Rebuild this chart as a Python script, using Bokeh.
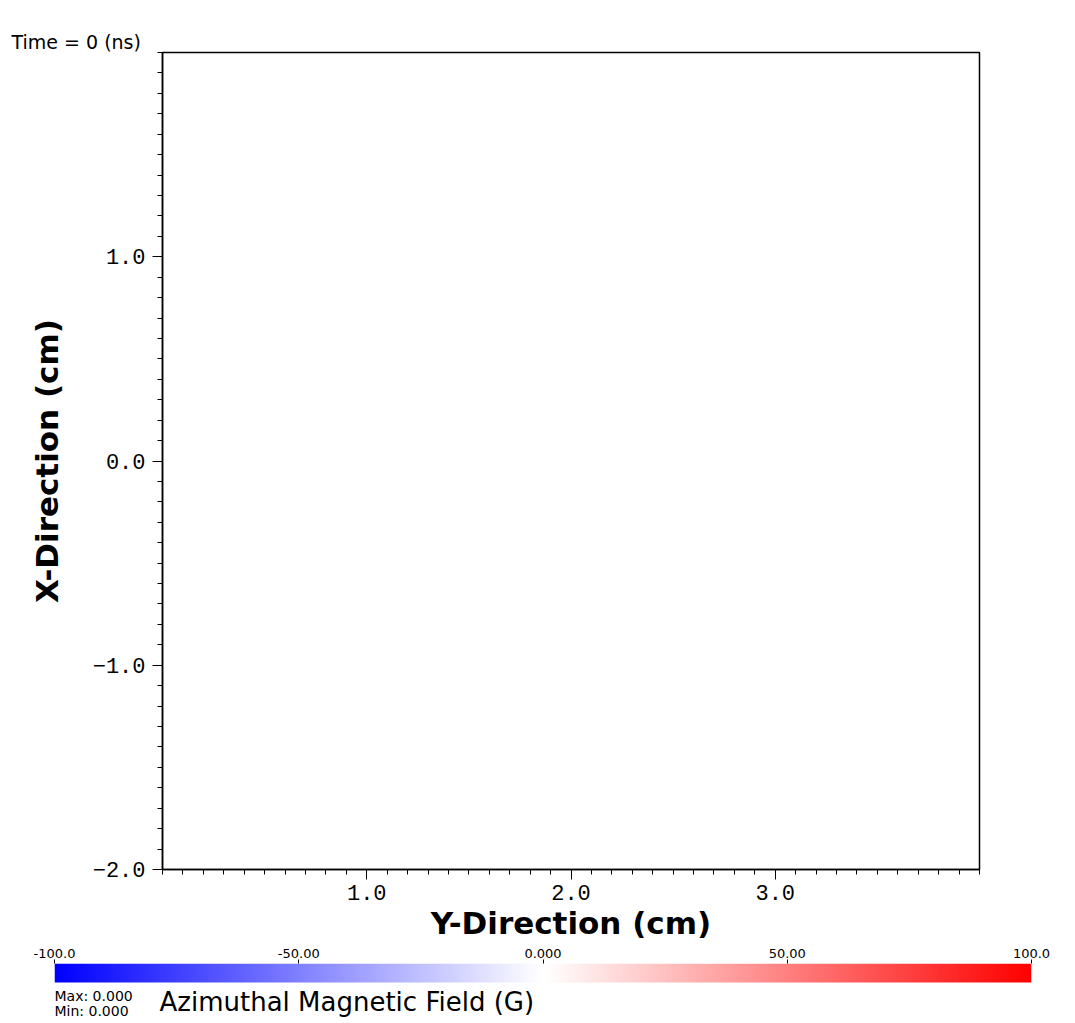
import numpy as np
from bokeh.plotting import figure
from bokeh.models import Range1d, FixedTicker, LinearColorMapper, Label
from bokeh.layouts import column
from bokeh.embed import file_html
from bokeh.resources import INLINE

# ---- data ----
time_ns = 0
x_limits = [0.0, 4.0]          # Y-Direction (cm)
y_limits = [-2.0, 2.0]         # X-Direction (cm)
x_major_ticks = [1.0, 2.0, 3.0]
x_major_labels = ["1.0", "2.0", "3.0"]
y_major_ticks = [-2.0, -1.0, 0.0, 1.0]
y_major_labels = ["\u22122.0", "\u22121.0", "0.0", "1.0"]
minor_step = 0.1
cbar_low, cbar_high = -100.0, 100.0
cbar_ticks = [-100.0, -50.0, 0.0, 50.0, 100.0]
cbar_tick_labels = ["-100.0", "-50.00", "0.000", "50.00", "100.0"]
field_max = "0.000"
field_min = "0.000"
field_title = "Azimuthal Magnetic Field (G)"

BLACK = "#000000"
LABEL_FONT = "DejaVu Sans"
TICK_FONT = "Liberation Mono"

# ---- main plot ----
p = figure(
    frame_width=817, frame_height=817,
    x_range=Range1d(*x_limits), y_range=Range1d(*y_limits),
    output_backend="svg", toolbar_location=None,
    min_border_left=162, min_border_right=90,
    min_border_top=52, min_border_bottom=74,
    title="Time = %d (ns)" % time_ns,
    background_fill_color="white", border_fill_color="white",
)
p.frame_align = False
p.title.text_font = LABEL_FONT
p.title.text_font_size = "19px"
p.title.text_font_style = "normal"
p.title.text_color = BLACK
p.title.align = "left"
p.title.offset = -151
p.title.standoff = 0

p.grid.visible = False
p.outline_line_color = BLACK
p.outline_line_width = 1.5
p.outline_line_alpha = 1.0

x_minor = [round(v, 1) for v in np.arange(x_limits[0], x_limits[1] + 1e-9, minor_step)]
y_minor = [round(v, 1) for v in np.arange(y_limits[0], y_limits[1] + 1e-9, minor_step)]
p.xaxis.ticker = FixedTicker(ticks=x_major_ticks, minor_ticks=x_minor)
p.yaxis.ticker = FixedTicker(ticks=y_major_ticks, minor_ticks=y_minor)
p.xaxis.major_label_overrides = {t: l for t, l in zip(x_major_ticks, x_major_labels)}
p.yaxis.major_label_overrides = {t: l for t, l in zip(y_major_ticks, y_major_labels)}

p.xaxis.axis_label = "Y-Direction (cm)"
p.yaxis.axis_label = "X-Direction (cm)"
for ax in (p.xaxis[0], p.yaxis[0]):
    ax.axis_line_color = BLACK
    ax.axis_line_width = 1.5
    ax.major_tick_line_color = BLACK
    ax.minor_tick_line_color = BLACK
    ax.major_tick_in = 0
    ax.major_tick_out = 10
    ax.minor_tick_in = 0
    ax.minor_tick_out = 5
    ax.major_label_text_font = TICK_FONT
    ax.major_label_text_font_size = "22px"
    ax.major_label_text_color = BLACK
    ax.axis_label_text_font = LABEL_FONT
    ax.axis_label_text_font_size = "31px"
    ax.axis_label_text_font_style = "bold"
    ax.axis_label_text_color = BLACK
p.xaxis.major_label_standoff = 5
p.xaxis.axis_label_standoff = 2
p.yaxis.major_label_standoff = 7
p.yaxis.axis_label_standoff = 25

# ---- colour bar (frame covers the bar and the texts under it) ----
n = 256
half = n // 2
palette = []
for i in range(half):
    f = i / (half - 1)
    c = int(round(255 * f))
    palette.append("#%02x%02xff" % (c, c))
for i in range(half):
    f = i / (half - 1)
    c = int(round(255 * (1 - f)))
    palette.append("#ff%02x%02x" % (c, c))
mapper = LinearColorMapper(palette=palette, low=cbar_low, high=cbar_high)

cb = figure(
    frame_width=977, frame_height=57,
    x_range=Range1d(cbar_low, cbar_high), y_range=Range1d(-2, 1),
    output_backend="svg", toolbar_location=None,
    x_axis_location="above", y_axis_location=None,
    min_border_left=54, min_border_right=44,
    min_border_top=20, min_border_bottom=0,
    background_fill_color="white", border_fill_color="white",
)
cb.frame_align = False
cb.outline_line_color = None
cb.grid.visible = False
gradient = np.linspace(cbar_low, cbar_high, 512).reshape(1, -1)
cb.image(image=[gradient], x=cbar_low, y=0, dw=cbar_high - cbar_low, dh=1, color_mapper=mapper)
ax = cb.xaxis[0]
ax.ticker = FixedTicker(ticks=cbar_ticks, minor_ticks=[])
ax.major_label_overrides = {t: l for t, l in zip(cbar_ticks, cbar_tick_labels)}
ax.axis_line_color = None
ax.major_tick_line_color = BLACK
ax.major_tick_in = 0
ax.major_tick_out = 4
ax.major_label_standoff = 2
ax.major_label_text_font = LABEL_FONT
ax.major_label_text_font_size = "13px"
ax.major_label_text_color = BLACK

cb.add_layout(Label(x=cbar_low, y=0, x_offset=0, y_offset=-5, text="Max: " + field_max,
                    text_baseline="top", text_font=LABEL_FONT, text_font_size="14px",
                    text_color=BLACK))
cb.add_layout(Label(x=cbar_low, y=0, x_offset=0, y_offset=-20, text="Min: " + field_min,
                    text_baseline="top", text_font=LABEL_FONT, text_font_size="14px",
                    text_color=BLACK))
cb.add_layout(Label(x=cbar_low, y=0, x_offset=105, y_offset=-4, text=field_title,
                    text_baseline="top", text_font=LABEL_FONT, text_font_size="26px",
                    text_color=BLACK))

layout = column(p, cb, spacing=0)
open("out.html", "w").write(file_html(layout, INLINE))
